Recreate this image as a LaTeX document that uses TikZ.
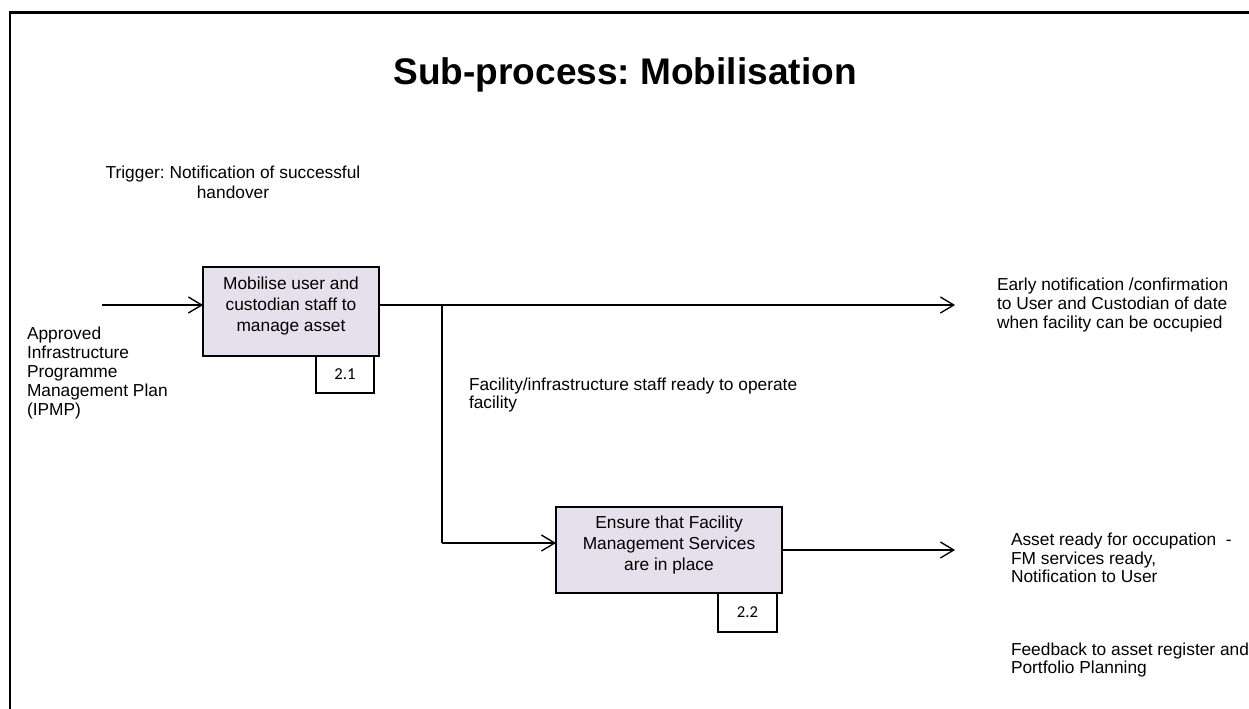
\documentclass[tikz,border=0pt]{standalone}
\usepackage{fontspec}
\setmainfont{Liberation Sans}
\newfontfamily\tagfont{Carlito}
\usetikzlibrary{arrows.meta}
\definecolor{procfill}{HTML}{E5E0EC}
\frenchspacing
\begin{document}
\begin{tikzpicture}[x=0.75pt,y=-0.75pt,
  every node/.style={inner sep=0pt, outer sep=0pt},
  proc/.style={draw, line width=1pt, fill=procfill},
  proctext/.style={align=center, font=\fontsize{13}{15.75}\selectfont},
  tagbox/.style={draw, line width=0.9pt, fill=white, font=\tagfont\fontsize{12.5}{14}\selectfont},
  lbl/.style={align=left, anchor=west, font=\fontsize{13}{14.1}\selectfont},
  flow/.style={line width=1pt, -{Straight Barb[length=10pt,width=12pt,line width=1pt]}},
  link/.style={line width=1pt}]
\useasboundingbox (0,0) rectangle (1249,709);

% open frame around the sheet
\draw[line width=2pt] (10,709) -- (10,12.5) -- (1249,12.5);

% title
\node[font=\bfseries\fontsize{27.8}{32}\selectfont] (title) at (625,75) {Sub-process: Mobilisation};

% trigger
\node[align=center, font=\fontsize{13}{14.8}\selectfont] (trigger) at (233,182)
  {Trigger: Notification of successful\\handover};

% process boxes (sizes in pt: 0.75pt per unit)
\node[proc, minimum width=132pt, minimum height=66.75pt] (p1) at (291,311.5) {};
\node[proctext] (p1t) at (291,306) {Mobilise user and\\custodian staff to\\manage asset};
\node[tagbox, minimum width=43.5pt, minimum height=27.75pt, anchor=north] (t1) at (345,356) {2.1};

\node[proc, minimum width=169.5pt, minimum height=64.5pt] (p2) at (669,550) {};
\node[proctext] (p2t) at (669,545) {Ensure that Facility\\Management Services\\are in place};
\node[tagbox, minimum width=44.25pt, minimum height=29.25pt, anchor=north] (t2) at (747.5,593) {2.2};

% input / output labels
\node[lbl] (inp) at (27,373) {Approved\\Infrastructure\\Programme\\Management Plan\\(IPMP)};
\node[lbl] (mid) at (469,395) {Facility/infrastructure staff ready to operate\\facility};
\node[lbl] (out1) at (997,305) {Early notification /confirmation\\to User and Custodian of date\\when facility can be occupied};
\node[lbl] (out2) at (1011,558) {Asset ready for occupation\ \ -\\FM services ready,\\Notification to User};
\node[lbl] (out3) at (1011,660) {Feedback to asset register and\\Portfolio Planning};

% connector end points
\coordinate (inStart) at (102,305);
\coordinate (out1End) at (955,305);
\coordinate (branch) at (442,305);
\coordinate (branchLow) at (442,543);
\coordinate (out2End) at (955,550);

% flows
\draw[flow] (inStart) -- (inStart -| p1.west);
\draw[flow] (inStart -| p1.east) -- (out1End);
\draw[link] (branch) -- (branchLow);
\draw[flow] (branchLow) -- (branchLow -| p2.west);
\draw[flow] (p2.east) -- (out2End);
\end{tikzpicture}
\end{document}
